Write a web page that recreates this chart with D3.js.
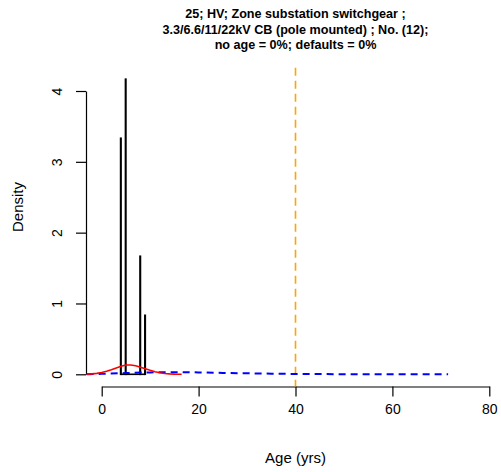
<!DOCTYPE html>
<html>
<head>
	<meta charset="UTF-8" />
	<title>age density</title>
	<script src="https://d3js.org/d3.v7.min.js"></script>
	<style>
		body { margin: 0; background: #fff; }
		text { font-family: "Liberation Sans", Arial, sans-serif; fill: #000; }
	</style>
</head>
<body>
	<svg id="chart" style="width:501px; height:472px"></svg>

	<script type="text/javascript">
	// title lines
	titleLines = ["25; HV; Zone substation switchgear ;",
		"3.3/6.6/11/22kV CB (pole mounted) ; No. (12);",
		"no age = 0%; defaults = 0%"]

	// histogram bins (left edge, yrs) and density, bin width 0.1
	binLefts = [3.9, 4.9, 7.9, 8.9]
	binDensity = [3.333, 4.167, 1.667, 0.833]
	binWidth = 0.1
	binRange = [3.9, 9.0]

	// kernel density (red)
	kdeAge = [-3.1, -2, -1, 0, 1, 2, 3, 4, 5, 6, 7, 8, 9, 10, 11, 12, 13, 14, 15, 16.5]
	kdeDens = [0.002, 0.006, 0.013, 0.025, 0.042, 0.065, 0.09, 0.115, 0.132, 0.132, 0.12, 0.1, 0.078, 0.056, 0.036, 0.021, 0.011, 0.006, 0.003, 0.001]

	// fitted curve (blue dashed)
	fitAge = [-3.1, 0, 5, 10, 15, 20, 25, 30, 35, 40, 45, 50, 60, 71.5]
	fitDens = [0.0, 0.006, 0.018, 0.027, 0.03, 0.027, 0.02, 0.014, 0.009, 0.005, 0.003, 0.002, 0.001, 0.0]

	// reference age line
	refAge = 40

	xTicks = [0, 20, 40, 60, 80]
	yTicks = [0, 1, 2, 3, 4]

	var svg = d3.select("#chart")

	//scale
	var xScale = d3.scaleLinear().domain([0, 80]).range([101.7, 489.3])
	var yScale = d3.scaleLinear().domain([0, 4]).range([374.3, 91])

	// plot region edges (R usr)
	var plotTop = 67.7, plotBottom = 386.5, plotLeft = 86

	//axis
	var xAxis = d3.axisBottom(xScale).tickValues(xTicks).tickSize(10).tickPadding(8).tickSizeOuter(0)
	var xg = svg.append("g").attr("transform", `translate(0,${plotBottom})`).call(xAxis)
	var yAxis = d3.axisLeft(yScale).tickValues(yTicks).tickFormat(d3.format("d"))
		.tickSize(10).tickPadding(0).tickSizeOuter(0)
	var yg = svg.append("g").attr("transform", `translate(${plotLeft},0)`).call(yAxis)

	;[xg, yg].forEach(g => {
		g.select(".domain").attr("stroke", "#000").attr("stroke-width", 1.2)
		g.selectAll(".tick line").attr("stroke", "#000").attr("stroke-width", 1.2)
		g.selectAll(".tick text").style("font-size", "14px").attr("fill", "#000")
			.style("font-family", '"Liberation Sans", Arial, sans-serif')
	})
	// y labels rotated like R
	yg.selectAll(".tick text")
		.attr("x", null)
		.attr("text-anchor", "middle")
		.attr("transform", "translate(-29,0) rotate(-90)")
		.attr("dy", "0.35em")

	// reference vertical line
	svg.append("line")
		.attr("x1", xScale(refAge)).attr("x2", xScale(refAge))
		.attr("y1", plotTop).attr("y2", plotBottom)
		.attr("stroke", "#ffa500").attr("stroke-width", 1.6)
		.attr("stroke-dasharray", "8,5")

	// histogram baseline + bars
	svg.append("line")
		.attr("x1", xScale(binRange[0])).attr("x2", xScale(binRange[1]))
		.attr("y1", yScale(0)).attr("y2", yScale(0))
		.attr("stroke", "#000").attr("stroke-width", 1.6)
	svg.selectAll("rect.bar").data(binLefts).join("rect")
		.attr("class", "bar")
		.attr("x", d => xScale(d))
		.attr("width", d => xScale(d + binWidth) - xScale(d))
		.attr("y", (d, i) => yScale(binDensity[i]))
		.attr("height", (d, i) => yScale(0) - yScale(binDensity[i]))
		.attr("fill", "none").attr("stroke", "#000").attr("stroke-width", 1.6)

	var line = d3.line().x(d => xScale(d[0])).y(d => yScale(d[1]))

	// blue fitted curve
	svg.append("path")
		.attr("d", line(fitAge.map((a, i) => [a, fitDens[i]])))
		.attr("fill", "none").attr("stroke", "#0000ff").attr("stroke-width", 2)
		.attr("stroke-dasharray", "7,5")

	// red kde
	svg.append("path")
		.attr("d", line(kdeAge.map((a, i) => [a, kdeDens[i]])))
		.attr("fill", "none").attr("stroke", "#ff0000").attr("stroke-width", 1.6)

	// title
	svg.selectAll("text.title").data(titleLines).join("text")
		.attr("class", "title")
		.attr("x", 295.5).attr("y", (d, i) => 18 + i * 15.5)
		.attr("text-anchor", "middle")
		.style("font-size", "12.6px").style("font-weight", "bold")
		.text(d => d)

	// axis titles
	svg.append("text").attr("x", 295.5).attr("y", 463)
		.attr("text-anchor", "middle").style("font-size", "15px").text("Age (yrs)")
	svg.append("text").attr("transform", "translate(23,207) rotate(-90)")
		.attr("text-anchor", "middle").style("font-size", "15px").text("Density")
	</script>
</body>
</html>
